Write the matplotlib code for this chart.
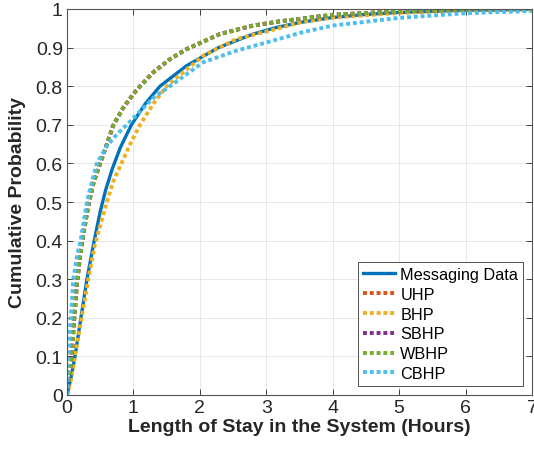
import matplotlib
matplotlib.use("Agg")
import matplotlib.pyplot as plt
from matplotlib.ticker import FormatStrFormatter

plt.rcParams["font.family"] = ["Liberation Sans", "DejaVu Sans"]

# (hours, cumulative probability)
msg_x = [0, 0.06, 0.12, 0.21, 0.30, 0.41, 0.50, 0.58, 0.68, 0.80, 0.97, 1.18,
         1.40, 1.80, 2.28, 2.80, 3.15, 3.50, 4.0, 4.5, 5.0, 6.0, 7.0]
msg_y = [0, 0.045, 0.10, 0.20, 0.30, 0.40, 0.475, 0.53, 0.585, 0.64, 0.70, 0.755,
         0.80, 0.853, 0.90, 0.935, 0.952, 0.965, 0.978, 0.986, 0.991, 0.997, 0.999]

uhp_x = [0, 0.035, 0.07, 0.11, 0.145, 0.19, 0.25, 0.32, 0.40, 0.50, 0.60, 0.70,
         0.85, 1.0, 1.10, 1.30, 1.55, 1.80, 2.30, 2.80, 3.20, 4.0, 5.0, 6.0, 7.0]
uhp_y = [0, 0.05, 0.10, 0.20, 0.28, 0.35, 0.42, 0.49, 0.55, 0.60, 0.65, 0.70,
         0.745, 0.78, 0.80, 0.836, 0.87, 0.896, 0.935, 0.957, 0.968, 0.985, 0.994,
         0.998, 1.0]
sbhp_x = list(uhp_x)
sbhp_y = list(uhp_y)
wbhp_x = list(uhp_x)
wbhp_y = list(uhp_y)

bhp_x = [0, 0.06, 0.12, 0.22, 0.32, 0.42, 0.60, 0.70, 0.82, 0.95, 1.10, 1.30,
         1.50, 2.05, 2.55, 3.10, 3.55, 4.0, 5.0, 6.0, 7.0]
bhp_y = [0, 0.04, 0.10, 0.20, 0.30, 0.39, 0.50, 0.555, 0.60, 0.65, 0.70, 0.755,
         0.80, 0.879, 0.922, 0.946, 0.967, 0.978, 0.990, 0.996, 0.999]

cbhp_x = [0, 0.01, 0.02, 0.045, 0.07, 0.095, 0.15, 0.205, 0.30, 0.37, 0.45, 0.60,
          0.75, 0.90, 1.10, 1.30, 1.55, 2.05, 2.55, 3.10, 3.55, 4.0, 5.0, 6.0, 7.0]
cbhp_y = [0, 0.06, 0.10, 0.17, 0.23, 0.30, 0.36, 0.40, 0.50, 0.55, 0.60, 0.645,
          0.675, 0.70, 0.735, 0.77, 0.80, 0.862, 0.892, 0.918, 0.94, 0.957, 0.977,
          0.989, 0.995]

labels = ["Messaging Data", "UHP", "BHP", "SBHP", "WBHP", "CBHP"]
colors = ["#0072BD", "#D95319", "#EDB120", "#7E2F8E", "#77AC30", "#4DBEEE"]

fig = plt.figure(figsize=(5.34, 4.52), dpi=100)
ax = fig.add_axes([67 / 534, 1 - 396 / 452, 465 / 534, 386 / 452])

dot = (0, (1, 0.75))
ax.plot(msg_x, msg_y, "-", color=colors[0], lw=2.4, label=labels[0])
series = [(uhp_x, uhp_y), (bhp_x, bhp_y), (sbhp_x, sbhp_y),
          (wbhp_x, wbhp_y), (cbhp_x, cbhp_y)]
for (xs, ys), c, lab in zip(series, colors[1:], labels[1:]):
    ax.plot(xs, ys, color=c, lw=2.8, linestyle=dot, label=lab)

ax.set_xlim(0, 7)
ax.set_ylim(0, 1)
ax.set_xticks(range(8))
ax.set_yticks([i / 10 for i in range(11)])
ax.yaxis.set_major_formatter(FormatStrFormatter("%g"))
ax.tick_params(direction="in", length=4, width=0.6, top=True, right=True,
               labelsize=14, colors="#262626", pad=3)
for s in ax.spines.values():
    s.set_color("#555555")
    s.set_linewidth(0.8)
ax.grid(True, color="#e3e3e3", lw=0.6)
ax.set_axisbelow(True)

ax.set_xlabel("Length of Stay in the System (Hours)", fontsize=14,
              fontweight="bold", color="#262626", labelpad=1)
ax.set_ylabel("Cumulative Probability", fontsize=14, fontweight="bold",
              color="#262626", labelpad=7)

leg = ax.legend(loc="lower right", bbox_to_anchor=(456 / 465, 9 / 386),
                fontsize=11.7, frameon=True, fancybox=False, framealpha=1,
                edgecolor="#333333", handlelength=2.0, handletextpad=0.3,
                borderpad=0.3, labelspacing=0.3, borderaxespad=0)
leg.get_frame().set_linewidth(0.6)

fig.savefig("out.png", dpi=100)
